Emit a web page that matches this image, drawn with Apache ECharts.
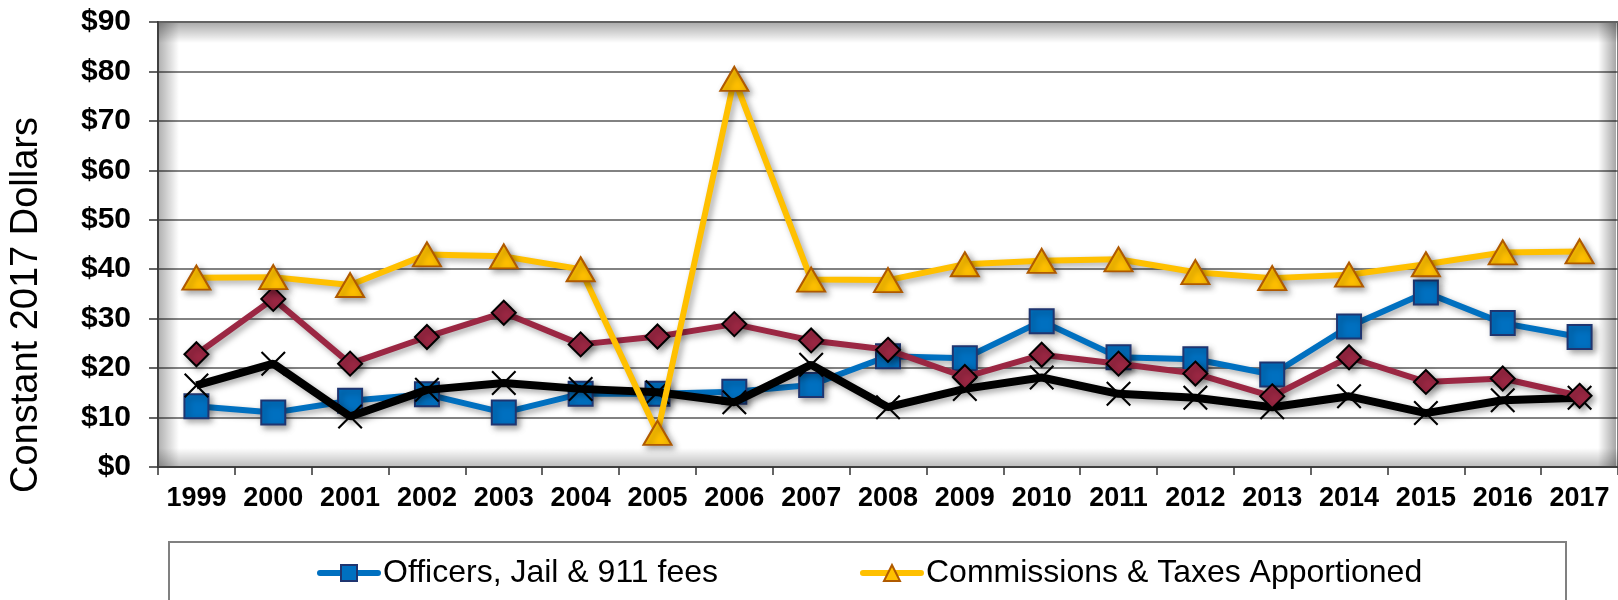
<!DOCTYPE html>
<html>
<head>
<meta charset="utf-8">
<script src="https://cdn.jsdelivr.net/npm/echarts@6/dist/echarts.min.js"></script>
<style>
html,body{margin:0;padding:0;background:#fff;}
#chart{width:1618px;height:600px;}
</style>
</head>
<body>
<div id="chart"></div>
<script>
const years = ['1999','2000','2001','2002','2003','2004','2005','2006','2007','2008','2009','2010','2011','2012','2013','2014','2015','2016','2017'];
const officersJail911 = [12.3, 11.0, 13.4, 14.7, 11.0, 14.8, 14.8, 15.2, 16.6, 22.4, 22.0, 29.5, 22.2, 21.8, 18.7, 28.4, 35.3, 29.1, 26.3];
const commissionsTaxes = [38.3, 38.4, 36.8, 43.0, 42.6, 40.0, 6.9, 78.5, 37.9, 37.8, 41.0, 41.7, 42.0, 39.4, 38.2, 38.9, 41.0, 43.4, 43.6];
const seriesDiamond = [22.8, 34.0, 20.9, 26.3, 31.2, 24.8, 26.4, 28.9, 25.6, 23.7, 18.2, 22.7, 20.9, 18.9, 14.3, 22.2, 17.2, 17.9, 14.4];
const seriesCross = [16.5, 20.9, 10.2, 15.6, 17.0, 15.8, 15.1, 13.1, 20.7, 12.1, 15.8, 18.1, 14.8, 14.0, 12.1, 14.3, 10.9, 13.5, 14.0];
const yTicks = [0, 10, 20, 30, 40, 50, 60, 70, 80, 90];
const legendNames = ['Officers, Jail & 911 fees', 'Commissions & Taxes Apportioned'];
const yTitle = 'Constant 2017 Dollars';

const FONT = '"Liberation Sans", Arial, sans-serif';
const chart = echarts.init(document.getElementById('chart'), null, {renderer: 'canvas'});
const xPath = 'path://M0,6 L6,0 L50,44 L94,0 L100,6 L56,50 L100,94 L94,100 L50,56 L6,100 L0,94 L44,50 Z';
const lineShadow = {shadowColor: 'rgba(0,0,0,0.35)', shadowBlur: 6, shadowOffsetX: 3, shadowOffsetY: 3};

function grad(x0, y0, x1, y1, a0, a1) {
  return new echarts.graphic.LinearGradient(x0, y0, x1, y1, [
    {offset: 0, color: 'rgba(0,0,0,' + a0 + ')'},
    {offset: 1, color: 'rgba(0,0,0,' + a1 + ')'}
  ]);
}

const option = {
  backgroundColor: '#ffffff',
  animation: false,
  grid: {
    left: 158, top: 22, width: 1463, height: 445,
    show: true, borderColor: '#808080', borderWidth: 2, backgroundColor: '#ffffff'
  },
  legend: {
    data: legendNames,
    left: 312, top: 552,
    itemWidth: 58, itemHeight: 20, itemGap: 142,
    lineStyle: {width: 6, cap: 'round'},
    textStyle: {fontFamily: FONT, fontSize: 32, color: '#000'}
  },
  graphic: [
    {type: 'rect', z: 1, silent: true, shape: {x: 159, y: 23, width: 1459, height: 20}, style: {fill: grad(0, 0, 0, 1, 0.32, 0)}},
    {type: 'rect', z: 1, silent: true, shape: {x: 159, y: 23, width: 20, height: 443}, style: {fill: grad(0, 0, 1, 0, 0.3, 0)}},
    {type: 'rect', z: 1, silent: true, shape: {x: 159, y: 448, width: 1459, height: 18}, style: {fill: grad(0, 0, 0, 1, 0, 0.25)}},
    {type: 'rect', z: 1, silent: true, shape: {x: 1598, y: 23, width: 18, height: 443}, style: {fill: grad(0, 0, 1, 0, 0, 0.35)}},
    {type: 'rect', z: 1, silent: true, shape: {x: 169, y: 542, width: 1397, height: 100}, style: {fill: 'none', stroke: '#808080', lineWidth: 2}},
    {type: 'text', z: 5, silent: true, x: 27, y: 305, rotation: Math.PI / 2,
      style: {text: yTitle, font: '38px ' + FONT, fill: '#000', align: 'center', verticalAlign: 'middle'}}
  ],
  xAxis: {
    type: 'category',
    data: years,
    boundaryGap: true,
    axisLine: {lineStyle: {color: '#404040', width: 2}},
    axisTick: {show: true, interval: 0, length: 8, lineStyle: {color: '#333', width: 1.5}},
    axisLabel: {interval: 0, margin: 18, fontFamily: FONT, fontWeight: 'bold', fontSize: 27, color: '#000'},
    splitLine: {show: false}
  },
  yAxis: {
    type: 'value',
    min: yTicks[0], max: yTicks[yTicks.length - 1], interval: 10,
    axisLine: {show: true, lineStyle: {color: '#404040', width: 2}},
    axisTick: {show: true, length: 9, lineStyle: {color: '#333', width: 1.5}},
    axisLabel: {margin: 27, fontFamily: FONT, fontWeight: 'bold', fontSize: 30, color: '#000',
      formatter: v => '$' + v},
    splitLine: {show: true, lineStyle: {color: '#595959', width: 1.5}}
  },
  series: [
    {
      name: legendNames[0], type: 'line', data: officersJail911, z: 3,
      symbol: 'rect', symbolSize: 24,
      lineStyle: Object.assign({color: '#0070C0', width: 6}, lineShadow),
      itemStyle: Object.assign({color: '#0070C0', borderColor: '#1F3570', borderWidth: 2}, lineShadow)
    },
    {
      name: 'Series 4', type: 'line', data: seriesCross, z: 4,
      symbol: xPath, symbolSize: 25,
      lineStyle: Object.assign({color: '#000000', width: 8}, lineShadow),
      itemStyle: {color: '#000000', borderWidth: 0}
    },
    {
      name: 'Series 3', type: 'line', data: seriesDiamond, z: 5,
      symbol: 'diamond', symbolSize: 24,
      lineStyle: Object.assign({color: '#9B2743', width: 6}, lineShadow),
      itemStyle: Object.assign({color: '#9B2743', borderColor: '#000000', borderWidth: 2}, lineShadow)
    },
    {
      name: legendNames[1], type: 'line', data: commissionsTaxes, z: 6,
      symbol: 'triangle', symbolSize: [28, 24],
      lineStyle: Object.assign({color: '#FFC000', width: 6}, lineShadow),
      itemStyle: Object.assign({color: '#FFC000', borderColor: '#B05A00', borderWidth: 2}, lineShadow)
    }
  ]
};
chart.setOption(option);
</script>
</body>
</html>
